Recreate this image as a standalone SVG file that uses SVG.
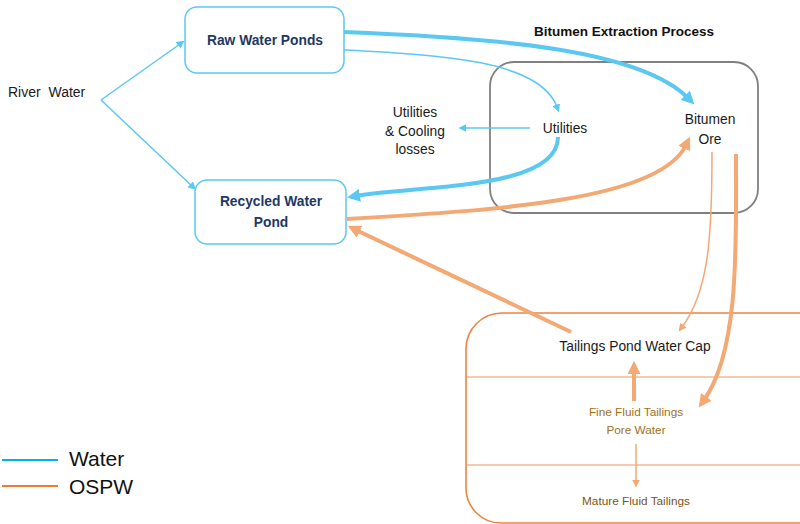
<svg xmlns="http://www.w3.org/2000/svg" width="800" height="524" viewBox="0 0 800 524">
<style>
text{font-family:"Liberation Sans",Arial,sans-serif;}
.node{fill:#fff;stroke:#5bc8f2;stroke-width:1.5;}
.nt{font-weight:bold;fill:#1f3864;font-size:13.8px;text-anchor:middle;}
.lbl{fill:#1a1a1a;font-size:13.8px;text-anchor:middle;}
.bw{fill:none;stroke:#5bc8f2;}
.bo{fill:none;stroke:#f4a873;}
.thin{stroke-width:1.5;}
.thick{stroke-width:4;}
.tl{fill:#a0701c;font-size:11.8px;text-anchor:middle;}
</style>
<defs>
<marker id="abT" markerUnits="userSpaceOnUse" viewBox="0 0 10 10" refX="3" refY="5" markerWidth="8" markerHeight="8" orient="auto"><path d="M0,0L10,5L0,10z" fill="#5bc8f2"/></marker>
<marker id="abK" markerUnits="userSpaceOnUse" viewBox="0 0 10 10" refX="3" refY="5" markerWidth="13" markerHeight="13" orient="auto"><path d="M0,0L10,5L0,10z" fill="#5bc8f2"/></marker>
<marker id="aoT" markerUnits="userSpaceOnUse" viewBox="0 0 10 10" refX="3" refY="5" markerWidth="8" markerHeight="8" orient="auto"><path d="M0,0L10,5L0,10z" fill="#f4a873"/></marker>
<marker id="aoK" markerUnits="userSpaceOnUse" viewBox="0 0 10 10" refX="3" refY="5" markerWidth="13" markerHeight="13" orient="auto"><path d="M0,0L10,5L0,10z" fill="#f4a873"/></marker>
</defs>

<g id="extraction">
<rect x="490" y="62" width="268" height="151" rx="24" fill="none" stroke="#808080" stroke-width="1.8"/>
<text x="624" y="36" font-weight="bold" font-size="13.5" text-anchor="middle" fill="#111">Bitumen Extraction Process</text>
</g>

<g id="tailings">
<path d="M800,313 H502 A36,36 0 0 0 466,349 V488 A35,35 0 0 0 501,523 H800" fill="none" stroke="#ed8440" stroke-width="1.6"/>
<line x1="466" y1="377" x2="800" y2="377" stroke="#f0955a" stroke-width="1"/>
<line x1="466" y1="465" x2="800" y2="465" stroke="#f0955a" stroke-width="1"/>
</g>

<g id="connectors">
<path class="bw thin" d="M101,100 L180,44" marker-end="url(#abT)"/>
<path class="bw thin" d="M101,100 L192,186" marker-end="url(#abT)"/>
<path class="bw thick" d="M344,32 C500,38 640,50 688,98" marker-end="url(#abK)"/>
<path class="bw thin" d="M344,50 C440,55 540,60 557,107" marker-end="url(#abT)"/>
<path class="bw thin" d="M530,128 L464,128" marker-end="url(#abT)"/>
<path class="bw thick" d="M558,137 C558,190 420,185 356,196" marker-end="url(#abK)"/>
<path class="bo thick" d="M347,219 C500,210 660,200 686,145" marker-end="url(#aoK)"/>
<path class="bo thick" d="M571,332 L356,230" marker-end="url(#aoK)"/>
<path class="bo thin" d="M712,152 C712,230 710,290 682,327" marker-end="url(#aoT)"/>
<path class="bo thick" d="M736,154 C736,240 740,350 704,400" marker-end="url(#aoK)"/>
<path class="bo thick" d="M634,401 L634,370" marker-end="url(#aoK)"/>
<path class="bo thin" d="M636,444 L636,482" marker-end="url(#aoT)"/>
</g>

<g id="river">
<text x="8" y="97" font-size="14" fill="#1a1a1a" xml:space="preserve">River  Water</text>
</g>
<g id="raw">
<rect class="node" x="185" y="7" width="159" height="66" rx="12"/>
<text class="nt" x="265" y="45">Raw Water Ponds</text>
</g>
<g id="recycled">
<rect class="node" x="195" y="180" width="151" height="64" rx="12"/>
<text class="nt" x="271" y="206">Recycled Water</text>
<text class="nt" x="271" y="227">Pond</text>
</g>
<g id="losses">
<text class="lbl" x="415" y="117">Utilities</text>
<text class="lbl" x="415" y="136">&amp; Cooling</text>
<text class="lbl" x="415" y="154">losses</text>
</g>
<g id="utilities">
<text class="lbl" x="565" y="133">Utilities</text>
</g>
<g id="ore">
<text class="lbl" x="710" y="124">Bitumen</text>
<text class="lbl" x="710" y="144">Ore</text>
</g>
<g id="cap">
<text class="lbl" x="635" y="351">Tailings Pond Water Cap</text>
</g>
<g id="fine">
<text class="tl" x="636" y="416">Fine Fluid Tailings</text>
<text class="tl" x="636" y="434">Pore Water</text>
</g>
<g id="mature">
<text class="tl" x="636" y="505" style="fill:#7a5520">Mature Fluid Tailings</text>
</g>

<g id="legend">
<line x1="2" y1="460" x2="58" y2="460" stroke="#00b0f0" stroke-width="2"/>
<text x="69" y="466" font-size="21" fill="#111">Water</text>
<line x1="2" y1="486" x2="58" y2="486" stroke="#ed7d31" stroke-width="2"/>
<text x="69" y="494" font-size="21" fill="#111">OSPW</text>
</g>
</svg>
